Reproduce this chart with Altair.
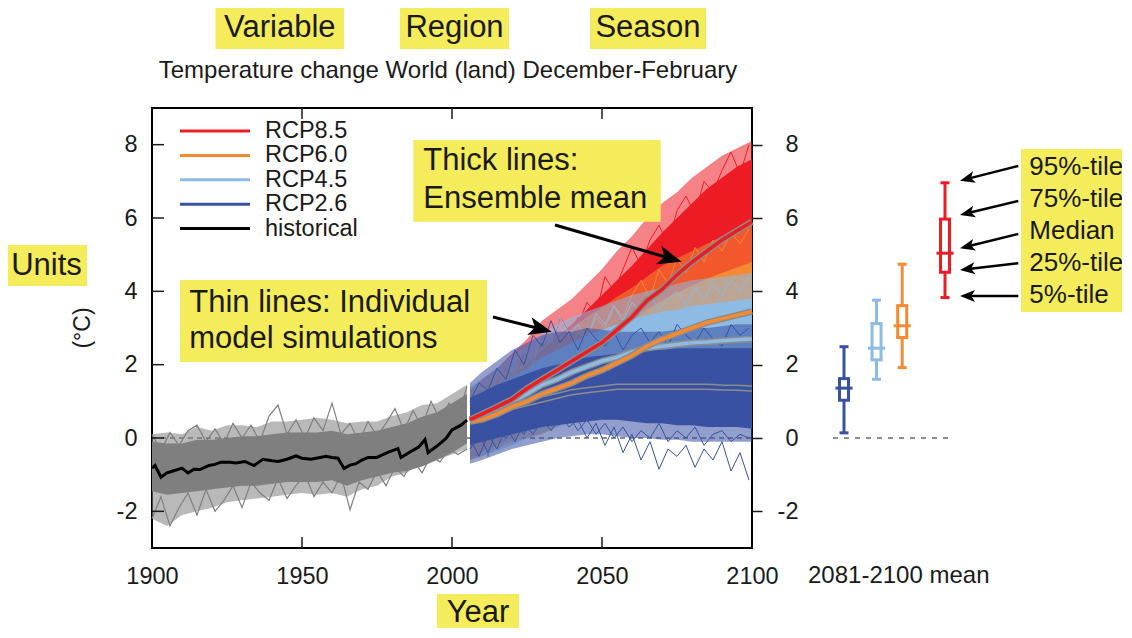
import math
import altair as alt
import pandas as pd

FONT = "Liberation Sans"
INK = "#1a1a1a"
YELLOW = "#f5ec5b"
GREY = "#7f7f7f"
CASING = "#8c8c8c"
W, H = 600, 440

scenarios = ["RCP8.5", "RCP6.0", "RCP4.5", "RCP2.6"]
scenario_colors = ["#ed1c24", "#f58a33", "#8dbbe4", "#3851a3"]
legend_names = scenarios + ["historical"]
legend_colors = scenario_colors + ["#000000"]

x_ticks = [1900, 1950, 2000, 2050, 2100]
x_inner_ticks = [1950, 2000, 2050]
y_ticks = [-2, 0, 2, 4, 6, 8]

# ---------------- historical (1900-2005) ----------------
hist_mean_years = [1900, 1901, 1903, 1905, 1907, 1910, 1912, 1914, 1916, 1919, 1921, 1923, 1926, 1928,
                   1931, 1934, 1937, 1940, 1942, 1945, 1948, 1950, 1953, 1956, 1958, 1960, 1962, 1964,
                   1966, 1968, 1970, 1972, 1975, 1977, 1979, 1982, 1983, 1986, 1989, 1991, 1992, 1995,
                   1998, 2000, 2003, 2005]
hist_mean = [-0.82, -0.75, -1.07, -0.95, -0.9, -0.82, -0.95, -0.85, -0.86, -0.75, -0.72, -0.66, -0.66,
             -0.68, -0.64, -0.75, -0.58, -0.62, -0.64, -0.58, -0.49, -0.55, -0.58, -0.53, -0.5, -0.53,
             -0.55, -0.83, -0.74, -0.7, -0.6, -0.53, -0.53, -0.45, -0.38, -0.29, -0.53, -0.38, -0.24,
             -0.04, -0.4, -0.22, -0.01, 0.22, 0.35, 0.49]

hist_band_years = list(range(1900, 2006, 5))
hist_outer_lo = [-2.2, -2.4, -2.1, -2.0, -1.9, -1.75, -1.7, -1.65, -1.6, -1.55, -1.5, -1.55, -1.5, -1.6,
                 -1.4, -1.3, -1.05, -0.95, -0.65, -0.6, -0.45, -0.3]
hist_outer_hi = [0.1, 0.15, 0.1, 0.3, 0.2, 0.35, 0.35, 0.3, 0.45, 0.45, 0.5, 0.55, 0.5, 0.4, 0.45, 0.45,
                 0.6, 0.7, 0.9, 0.95, 1.2, 1.45]
hist_core_lo = [-1.45, -1.55, -1.5, -1.45, -1.4, -1.35, -1.3, -1.3, -1.25, -1.2, -1.2, -1.2, -1.15, -1.3,
                -1.15, -1.05, -0.95, -0.9, -0.78, -0.6, -0.4, -0.15]
hist_core_hi = [-0.1, -0.15, -0.15, -0.05, -0.05, 0.0, 0.05, 0.05, 0.1, 0.15, 0.15, 0.15, 0.2, 0.1, 0.15,
                0.2, 0.3, 0.4, 0.58, 0.7, 0.95, 1.2]

hist_member_years = list(range(1900, 2006, 3))
hist_member_a = [0.1, -0.35, 0.15, -0.2, 0.2, 0.35, -0.1, 0.25, -0.15, 0.4, 0.0, 0.35, -0.1, 0.6, 0.9,
                 0.1, 0.5, 0.0, 0.55, 0.2, 0.95, 0.1, 0.4, -0.1, 0.45, 0.05, 0.4, 0.8, 0.2, 0.75, 0.3,
                 1.0, 0.5, 0.95, 0.6, 1.4]
hist_member_b = [-2.2, -1.6, -2.4, -1.9, -1.5, -2.1, -1.4, -2.0, -1.7, -1.3, -1.9, -1.2, -1.5, -1.7,
                 -1.1, -1.65, -1.3, -1.0, -1.6, -1.2, -1.5, -1.0, -1.96, -1.2, -1.4, -0.9, -1.3, -0.8,
                 -1.05, -0.6, -0.95, -0.5, -0.65, -0.3, -0.45, -0.3]

# ---------------- scenarios (2006-2100) ----------------
fut_years = [2006, 2010, 2015, 2020, 2025, 2030, 2035, 2040, 2045, 2050, 2055, 2060, 2065, 2070, 2075,
             2080, 2085, 2090, 2095, 2100]

r85_mean = [0.5, 0.65, 0.85, 1.05, 1.35, 1.6, 1.85, 2.1, 2.35, 2.6, 2.95, 3.3, 3.75, 4.05, 4.45, 4.8, 5.1, 5.4, 5.65, 5.9]
r85_core_lo = [0.0, 0.1, 0.25, 0.4, 0.6, 0.8, 1.0, 1.2, 1.4, 1.6, 1.9, 2.2, 2.6, 2.85, 3.2, 3.5, 3.8, 4.05, 4.3, 4.5]
r85_core_hi = [1.0, 1.15, 1.4, 1.65, 2.0, 2.4, 2.75, 3.1, 3.5, 3.9, 4.3, 4.7, 5.15, 5.6, 6.0, 6.4, 6.8, 7.1, 7.4, 7.6]
r85_outer_lo = [-0.6, -0.4, -0.2, 0.0, 0.2, 0.4, 0.6, 0.8, 1.0, 1.2, 1.5, 1.8, 2.1, 2.4, 2.7, 3.0, 3.3, 3.5, 3.8, 4.0]
r85_outer_hi = [1.3, 1.6, 1.9, 2.3, 2.7, 3.2, 3.5, 3.8, 4.2, 4.6, 5.1, 5.5, 6.0, 6.4, 6.7, 7.1, 7.4, 7.7, 7.9, 8.1]

r60_mean = [0.45, 0.5, 0.65, 0.85, 1.0, 1.2, 1.35, 1.5, 1.7, 1.85, 2.05, 2.25, 2.5, 2.7, 2.85, 3.0, 3.15, 3.25, 3.35, 3.45]
r60_core_lo = [-0.1, -0.05, 0.1, 0.25, 0.4, 0.55, 0.7, 0.85, 1.0, 1.1, 1.3, 1.45, 1.65, 1.8, 1.95, 2.1, 2.2, 2.3, 2.4, 2.5]
r60_core_hi = [1.0, 1.1, 1.25, 1.45, 1.65, 1.85, 2.05, 2.25, 2.5, 2.7, 2.95, 3.2, 3.5, 3.75, 3.95, 4.15, 4.35, 4.5, 4.65, 4.8]
r60_outer_lo = [-0.6, -0.5, -0.3, -0.1, 0.0, 0.1, 0.3, 0.5, 0.6, 0.7, 0.9, 1.0, 1.2, 1.3, 1.5, 1.6, 1.7, 1.8, 1.9, 2.0]
r60_outer_hi = [1.3, 1.45, 1.7, 1.95, 2.2, 2.5, 2.75, 3.0, 3.3, 3.55, 3.85, 4.1, 4.4, 4.7, 4.9, 5.1, 5.3, 5.5, 5.6, 5.8]

r45_mean = [0.5, 0.6, 0.8, 1.0, 1.2, 1.45, 1.6, 1.8, 1.95, 2.1, 2.2, 2.35, 2.45, 2.5, 2.55, 2.6, 2.62, 2.65, 2.68, 2.7]
r45_core_lo = [0.0, 0.05, 0.2, 0.35, 0.5, 0.7, 0.85, 1.0, 1.1, 1.25, 1.35, 1.45, 1.5, 1.55, 1.6, 1.65, 1.65, 1.7, 1.7, 1.7]
r45_core_hi = [1.0, 1.15, 1.4, 1.65, 1.9, 2.2, 2.4, 2.6, 2.8, 2.95, 3.1, 3.25, 3.35, 3.45, 3.5, 3.6, 3.65, 3.7, 3.75, 3.8]
r45_outer_lo = [-0.6, -0.5, -0.35, -0.2, 0.0, 0.15, 0.3, 0.45, 0.55, 0.65, 0.75, 0.8, 0.85, 0.9, 0.9, 0.95, 0.95, 1.0, 1.0, 1.0]
r45_outer_hi = [1.4, 1.6, 1.9, 2.2, 2.5, 2.8, 3.1, 3.3, 3.45, 3.6, 3.75, 3.9, 4.0, 4.1, 4.2, 4.3, 4.35, 4.4, 4.45, 4.5]

r26_mean = [0.45, 0.55, 0.7, 0.85, 0.95, 1.05, 1.15, 1.25, 1.3, 1.35, 1.4, 1.4, 1.4, 1.4, 1.4, 1.4, 1.4, 1.38, 1.37, 1.35]
r26_core_lo = [-0.2, -0.1, 0.0, 0.1, 0.2, 0.3, 0.35, 0.4, 0.45, 0.5, 0.5, 0.45, 0.4, 0.4, 0.35, 0.35, 0.3, 0.3, 0.3, 0.25]
r26_core_hi = [1.1, 1.25, 1.45, 1.6, 1.75, 1.9, 2.0, 2.1, 2.2, 2.25, 2.3, 2.35, 2.4, 2.4, 2.45, 2.45, 2.45, 2.45, 2.45, 2.45]
r26_outer_lo = [-0.7, -0.6, -0.45, -0.3, -0.2, -0.1, 0.0, 0.05, 0.1, 0.1, 0.05, 0.0, 0.0, -0.05, -0.05, -0.1, -0.1, -0.1, -0.1, -0.1]
r26_outer_hi = [1.5, 1.8, 2.1, 2.4, 2.6, 2.8, 2.9, 2.9, 3.0, 2.95, 2.9, 2.9, 2.9, 2.9, 2.95, 3.0, 3.0, 3.05, 3.1, 3.1]

member_years = list(range(2006, 2100, 3))
r85_member_a = [0.9, 1.3, 1.1, 1.5, 1.9, 1.6, 2.3, 2.0, 2.6, 2.4, 3.3, 2.9, 3.1, 3.7, 3.4, 4.4, 4.0, 4.6,
                5.2, 4.7, 5.4, 5.8, 5.3, 6.2, 6.6, 6.1, 7.0, 6.7, 7.3, 7.8, 7.2, 8.0]
r85_member_b = [0.5, 0.9, 1.2, 0.9, 1.6, 1.4, 1.8, 2.2, 1.9, 2.6, 2.4, 2.8, 3.3, 3.0, 3.5, 3.9, 3.6, 4.2,
                4.6, 4.3, 4.9, 5.3, 5.0, 5.6, 5.9, 5.5, 6.3, 6.0, 6.7, 6.5, 7.1, 6.9]
r60_member_a = [0.8, 1.1, 0.9, 1.4, 1.2, 1.7, 1.9, 1.6, 2.2, 2.0, 2.6, 2.3, 2.9, 2.7, 3.3, 3.0, 3.6, 3.3,
                3.9, 4.3, 3.8, 4.6, 4.2, 4.9, 4.5, 5.2, 4.8, 5.4, 5.1, 5.6, 5.3, 5.7]
r60_member_b = [-0.3, 0.2, -0.5, 0.1, 0.3, -0.1, 0.5, 0.3, 0.7, 0.6, 0.9, 0.8, 1.2, 1.0, 1.4, 1.3, 1.6,
                1.5, 1.8, 1.6, 2.0, 1.9, 2.2, 2.0, 2.4, 2.2, 2.5, 2.4, 2.6, 2.5, 2.8, 2.7]
r45_member_a = [1.0, 1.4, 1.2, 1.8, 1.5, 2.1, 2.5, 2.0, 2.9, 2.6, 3.3, 2.8, 3.1, 2.7, 3.4, 3.1, 3.6, 3.2,
                3.7, 3.4, 3.9, 3.5, 3.8, 4.0, 3.6, 4.1, 3.8, 4.2, 3.9, 4.3, 4.0, 4.4]
r45_member_b = [-0.4, 0.1, -0.5, 0.2, -0.1, 0.4, 0.2, 0.6, 0.5, 0.8, 0.7, 1.0, 0.8, 1.1, 1.0, 1.2, 1.0,
                1.3, 1.1, 1.4, 1.2, 1.3, 1.1, 1.4, 1.2, 1.5, 1.3, 1.4, 1.2, 1.5, 1.3, 1.4]
r26_member_a = [1.0, 1.5, 1.3, 1.9, 1.6, 2.4, 2.0, 2.8, 2.5, 3.2, 2.6, 2.9, 2.4, 3.0, 2.7, 2.5, 2.9, 2.4,
                2.8, 3.0, 2.6, 2.9, 2.5, 3.1, 2.8, 2.6, 3.0, 2.7, 2.5, 3.1, 2.8, 3.0]
r26_member_b = [0.0, -0.5, 0.1, -0.3, 0.3, -0.1, 0.4, 0.1, 0.5, 0.2, 0.6, 0.3, 0.5, 0.0, 0.4, -0.2, 0.3,
                -0.4, 0.1, -0.6, -0.1, -0.85, -0.3, -0.5, -0.2, -0.8, -0.3, -0.6, -0.1, -0.9, -0.4, -1.15]
r26_member_c = [-0.3, 0.1, -0.4, 0.2, 0.0, 0.4, 0.1, 0.6, 0.3, 0.7, 0.4, 0.6, 0.2, 0.5, 0.1, 0.4, 0.0,
                0.3, -0.1, 0.2, 0.0, 0.4, -0.1, 0.2, 0.0, 0.3, -0.2, 0.1, 0.2, -0.1, 0.1, 0.0]

# ---------------- 2081-2100 mean percentiles ----------------
box_forcing = [2.6, 4.5, 6.0, 8.5]
box_names = ["RCP2.6", "RCP4.5", "RCP6.0", "RCP8.5"]
box_p5 = [0.14, 1.6, 1.92, 3.83]
box_p25 = [1.03, 2.13, 2.74, 4.52]
box_median = [1.36, 2.45, 3.06, 5.04]
box_p75 = [1.62, 3.12, 3.61, 5.97]
box_p95 = [2.49, 3.76, 4.74, 6.96]
percentile_labels = ["95%-tile", "75%-tile", "Median", "25%-tile", "5%-tile"]

# ---------------- helpers ----------------
xs = alt.Scale(domain=[1900, 2100], nice=False, zero=False)
ys = alt.Scale(domain=[-3, 9], nice=False, zero=False)
one = pd.DataFrame({"a": [0]})


def X(field="year"):
    return alt.X(f"{field}:Q", scale=xs, axis=None)


def Y(field):
    return alt.Y(f"{field}:Q", scale=ys, axis=None)


def members_df(years, series):
    rows = []
    for name, vals in series.items():
        for yr, v in zip(years, vals, strict=True):
            rows.append({"year": yr, "value": v, "member": name})
    return pd.DataFrame(rows)


def band_df(years, olo, ohi, clo, chi):
    return pd.DataFrame({"year": years, "olo": olo, "ohi": ohi, "clo": clo, "chi": chi})


def text(t, x, y, size, align="left", baseline="alphabetic", angle=None, color=INK):
    kw = dict(font=FONT, fontSize=size, align=align, baseline=baseline, color=color)
    if angle is not None:
        kw["angle"] = angle
    return alt.Chart(pd.DataFrame({"t": [t]})).mark_text(**kw).encode(
        text="t:N", x=alt.value(x), y=alt.value(y))


def rect(x0, x1, y0, y1, color=YELLOW):
    return alt.Chart(one).mark_rect(color=color).encode(
        x=alt.value(x0), x2=alt.value(x1), y=alt.value(y0), y2=alt.value(y1))


ARROW = "M1,0L-1,-0.8L-0.5,0L-1,0.8Z"


def arrow(x0, y0, x1, y1, head, width):
    dx, dy = x1 - x0, y1 - y0
    L = math.hypot(dx, dy)
    ux, uy = dx / L, dy / L
    ang = math.degrees(math.atan2(dy, dx)) % 360
    ex, ey = x1 - ux * head * 0.7, y1 - uy * head * 0.7
    line = alt.Chart(one).mark_rule(color="black", strokeWidth=width).encode(
        x=alt.value(x0), y=alt.value(y0), x2=alt.value(ex), y2=alt.value(ey))
    cx, cy = x1 - ux * head / 2, y1 - uy * head / 2
    hd = alt.Chart(one).mark_point(shape=ARROW, filled=True, color="black", opacity=1,
                                   strokeWidth=0, size=head * head, angle=ang).encode(
        x=alt.value(cx), y=alt.value(cy))
    return [line, hd]


layers = []

# zero reference (dashed)
zero = pd.DataFrame({"v": [0]})
layers.append(alt.Chart(zero).mark_rule(color=INK, strokeWidth=1, strokeDash=[5, 4]).encode(
    x=alt.value(0), x2=alt.value(W), y=Y("v")))

# historical ensemble
hb = band_df(hist_band_years, hist_outer_lo, hist_outer_hi, hist_core_lo, hist_core_hi)
hm = members_df(hist_member_years, {"a": hist_member_a, "b": hist_member_b})
layers += [
    alt.Chart(hb).mark_area(color=GREY, opacity=0.55).encode(x=X(), y=Y("olo"), y2=alt.Y2("ohi")),
    alt.Chart(hb).mark_area(color=GREY).encode(x=X(), y=Y("clo"), y2=alt.Y2("chi")),
    alt.Chart(hm).mark_line(color=GREY, strokeWidth=1.2).encode(x=X(), y=Y("value"), detail="member:N"),
]

scen_bands = [
    (r85_outer_lo, r85_outer_hi, r85_core_lo, r85_core_hi, {"a": r85_member_a, "b": r85_member_b}),
    (r60_outer_lo, r60_outer_hi, r60_core_lo, r60_core_hi, {"a": r60_member_a, "b": r60_member_b}),
    (r45_outer_lo, r45_outer_hi, r45_core_lo, r45_core_hi, {"a": r45_member_a, "b": r45_member_b}),
    (r26_outer_lo, r26_outer_hi, r26_core_lo, r26_core_hi,
     {"a": r26_member_a, "b": r26_member_b, "c": r26_member_c}),
]
for (olo, ohi, clo, chi, mem), col in zip(scen_bands, scenario_colors):
    bd = band_df(fut_years, olo, ohi, clo, chi)
    md = members_df(member_years, mem)
    layers += [
        alt.Chart(bd).mark_area(color=col, opacity=0.55).encode(x=X(), y=Y("olo"), y2=alt.Y2("ohi")),
        alt.Chart(bd).mark_area(color=col).encode(x=X(), y=Y("clo"), y2=alt.Y2("chi")),
        alt.Chart(md).mark_line(color=col, strokeWidth=1).encode(x=X(), y=Y("value"), detail="member:N"),
    ]

# ensemble means
hmean = pd.DataFrame({"year": hist_mean_years, "value": hist_mean})
layers.append(alt.Chart(hmean).mark_line(color="black", strokeWidth=3).encode(x=X(), y=Y("value")))
for vals, col in [(r26_mean, scenario_colors[3]), (r45_mean, scenario_colors[2]),
                  (r60_mean, scenario_colors[1]), (r85_mean, scenario_colors[0])]:
    d = pd.DataFrame({"year": fut_years, "value": vals})
    layers += [
        alt.Chart(d).mark_line(color=CASING, strokeWidth=6.5).encode(x=X(), y=Y("value")),
        alt.Chart(d).mark_line(color=col, strokeWidth=3.5).encode(x=X(), y=Y("value")),
    ]

# ---------------- box plots (2081-2100 mean) ----------------
box = pd.DataFrame({"forcing": box_forcing, "scenario": box_names, "p5": box_p5, "p25": box_p25,
                    "med": box_median, "p75": box_p75, "p95": box_p95})
bx = alt.X("forcing:Q", scale=alt.Scale(domain=[2.6, 8.5], range=[692, 793]), axis=None)
bx2 = alt.X2("forcing")
cscale = alt.Scale(domain=scenarios, range=scenario_colors)
bcol = alt.Color("scenario:N", scale=cscale, legend=None)
layers.append(alt.Chart(zero).mark_rule(color=INK, strokeWidth=1, strokeDash=[5, 6]).encode(
    x=alt.value(681), x2=alt.value(802), y=Y("v")))
layers += [
    alt.Chart(box).mark_rule(strokeWidth=3).encode(x=bx, y=Y("p5"), y2=alt.Y2("p95"), color=bcol),
    alt.Chart(box).mark_rule(strokeWidth=12, xOffset=0).encode(
        x=bx, y=Y("p25"), y2=alt.Y2("p75"), color=bcol),
    alt.Chart(box).mark_rule(strokeWidth=6, color="white").encode(
        x=bx, y=Y("p25"), y2=alt.Y2("p75"), yOffset=alt.value(0)),
    alt.Chart(box).mark_rule(strokeWidth=3, xOffset=-8.5, x2Offset=8.5).encode(
        x=bx, x2=bx2, y=Y("med"), color=bcol),
    alt.Chart(box).mark_rule(strokeWidth=3, xOffset=-4.5, x2Offset=4.5).encode(
        x=bx, x2=bx2, y=Y("p5"), color=bcol),
    alt.Chart(box).mark_rule(strokeWidth=3, xOffset=-4.5, x2Offset=4.5).encode(
        x=bx, x2=bx2, y=Y("p95"), color=bcol),
    alt.Chart(box).mark_rule(strokeWidth=3, xOffset=-6, x2Offset=6).encode(
        x=bx, x2=bx2, y=Y("p25"), color=bcol),
    alt.Chart(box).mark_rule(strokeWidth=3, xOffset=-6, x2Offset=6).encode(
        x=bx, x2=bx2, y=Y("p75"), color=bcol),
]

# ---------------- axes and inward ticks ----------------
yt = pd.DataFrame({"v": y_ticks})
xt = pd.DataFrame({"t": x_inner_ticks})
lbl = "datum.value + ''"
layers += [
    alt.Chart(yt).mark_rule(color=INK, strokeWidth=1.5).encode(
        y=alt.Y("v:Q", scale=ys, axis=alt.Axis(orient="left", values=y_ticks, title=None, labelPadding=15,
                                                ticks=False, tickSize=0, domain=False, grid=False,
                                                labelExpr=lbl)),
        x=alt.value(0), x2=alt.value(12)),
    alt.Chart(yt).mark_point(opacity=0).encode(
        y=alt.Y("v:Q", scale=ys, axis=alt.Axis(orient="right", values=y_ticks, title=None, labelPadding=36,
                                                ticks=True, tickSize=10, tickWidth=1.5, tickColor=INK,
                                                labelAlign="right", domain=False, grid=False,
                                                labelExpr=lbl)),
        x=alt.value(W)),
    alt.Chart(xt).mark_rule(color=INK, strokeWidth=1.5).encode(
        x=alt.X("t:Q", scale=xs, axis=alt.Axis(orient="bottom", values=x_ticks, title=None, labelPadding=16,
                                                ticks=False, tickSize=0, domain=False, grid=False,
                                                labelFlush=False, labelExpr=lbl)),
        y=alt.value(H), y2=alt.value(H - 11)),
    alt.Chart(xt).mark_rule(color=INK, strokeWidth=1.5).encode(
        x=X("t"), y=alt.value(0), y2=alt.value(11)),
]

# ---------------- legend ----------------
for i, (name, col) in enumerate(zip(legend_names, legend_colors)):
    yy = 23 + i * 24.4
    layers.append(alt.Chart(one).mark_rule(color=col, strokeWidth=3).encode(
        x=alt.value(28), x2=alt.value(98), y=alt.value(yy)))
    layers.append(text(name, 113, yy, 23.5, baseline="middle"))

# ---------------- annotation boxes and texts ----------------
layers += [
    rect(63.5, 192, -100, -59), text("Variable", 127.8, -71.3, 31, align="center"),
    rect(248, 357, -100, -59), text("Region", 302.5, -71.3, 31, align="center"),
    rect(438, 554, -100, -59), text("Season", 496, -71.3, 31, align="center"),
    text("Temperature change World (land) December-February", 296, -29.7, 24, align="center"),
    rect(-146, -65, 137, 178), text("Units", -105.5, 167, 31, align="center"),
    text("(°C)", -69, 220, 23, align="center", baseline="middle", angle=270),
    rect(285, 367, 486, 520), text("Year", 326, 514, 31, align="center"),
    text("2081-2100 mean", 656, 456, 24, baseline="top"),
    rect(28, 335, 172, 254),
    text("Thin lines: Individual", 37.3, 203.7, 31),
    text("model simulations", 37.3, 240.3, 31),
    rect(261.3, 508.7, 32, 113.7),
    text("Thick lines:", 271.3, 62, 31),
    text("Ensemble mean", 271.3, 100.3, 31),
    rect(869, 982, 41, 204),
]
for i, t in enumerate(percentile_labels):
    layers.append(text(t, 877.3, 67 + i * 32.1, 26))

layers += arrow(403, 117, 529.7, 153.7, 24, 3)
layers += arrow(341, 209, 399.7, 223.7, 23, 3)
for y0, y1 in [(58, 72.7), (93, 107), (126, 140.3), (155.3, 162), (188, 188)]:
    layers += arrow(866.3, y0, 808, y1, 15, 2.5)

chart = (
    alt.layer(*layers)
    .resolve_scale(x="independent")
    .resolve_axis(y="independent")
    .properties(width=W, height=H,
                padding={"left": 144, "top": 100, "right": 370, "bottom": 80},
                autosize=alt.AutoSizeParams(type="none"))
    .configure_view(stroke="black", strokeWidth=2)
    .configure_axis(labelFont=FONT, labelFontSize=23.5, labelColor=INK)
)

chart.save("out.html", embed_options={"renderer": "svg", "actions": False})
